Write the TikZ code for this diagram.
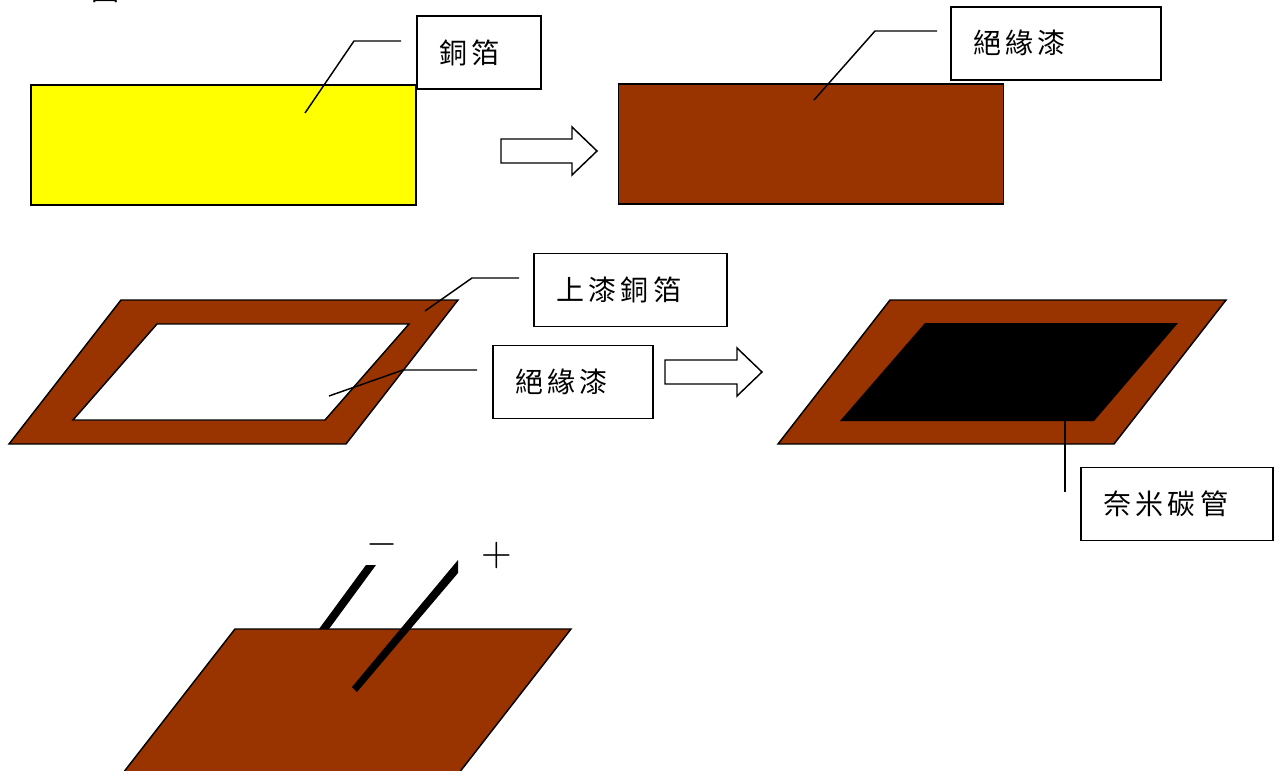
\documentclass[tikz,border=0pt]{standalone}
\usepackage{fontspec}
\newfontfamily\cjk[LetterSpace=16]{Noto Sans CJK TC}
\definecolor{lacquer}{HTML}{993300}
\definecolor{foilyellow}{RGB}{255,255,0}

\begin{document}
\begin{tikzpicture}[x=0.75pt,y=-0.75pt,
    sheet/.style={
% The shape:
rectangle,
% The size:
minimum height=90pt,
minimum width=288.75pt,
inner sep=0pt,
% The border:
line width=1.1pt, draw,
fill=#1,
},
    lbl/.style={
% The shape:
rectangle,
% The size:
minimum height=54.5pt,
inner xsep=16.5pt,
inner ysep=0pt,
text width=#1,
align=left,
% The border:
line width=1.1pt, draw,
fill=white,
font=\cjk\fontsize{21}{25}\selectfont,
},
    plate/.style={line width=1.1pt, draw=black, fill=lacquer},
    leader/.style={line width=1.1pt},
    wire/.style={fill=black},
    sign/.style={inner sep=0pt},
    hollow/.style={line width=1.1pt, draw=black, fill=white},
]
  \useasboundingbox (0,0) rectangle (1282,771);

  \node[inner sep=0pt, font=\cjk\fontsize{21}{25}\selectfont] (title) at (105,-10) {圖};

  % top row
  \node[sheet=foilyellow] (foil)   at (223.5,145)  {};
  \node[sheet=lacquer]    (coated) at (811,144)    {};
  \node[lbl=60pt]         (foil label)   at (479,52.5)  {銅箔};
  \node[lbl=124.5pt]      (coated label) at (1056,43.5) {\raisebox{2pt}{絕緣漆}};

  \draw[hollow] (501,139) -- (572,139) -- (572,127) -- (597,151) -- (572,175) -- (572,163) -- (501,163) -- cycle;

  \coordinate (foil tip)   at (305,113);
  \coordinate (foil bend)  at (354,41);
  \coordinate (foil end)   at (401,41);
  \coordinate (coat tip)   at (814,100);
  \coordinate (coat bend)  at (875,31);
  \coordinate (coat end)   at (937,31);
  \draw[leader] (foil tip) -- (foil bend) -- (foil end);
  \draw[leader] (coat tip) -- (coat bend) -- (coat end);

  % middle row
  \draw[plate] (121,300) -- (458,300) -- (346,444) -- (9,444) -- cycle;
  \draw[hollow] (157,324) -- (409,324) -- (325,420) -- (73,420) -- cycle;
  \node[lbl=111.75pt]   (plate label) at (630.5,290) {上漆銅箔};
  \node[lbl=87pt]       (paint label) at (573,382)   {絕緣漆};

  \coordinate (plate tip)  at (425,311);
  \coordinate (plate bend) at (472,278);
  \coordinate (plate end)  at (519,278);
  \coordinate (paint tip)  at (329,396);
  \coordinate (paint bend) at (403,370);
  \coordinate (paint end)  at (477,370);
  \draw[leader] (plate tip) -- (plate bend) -- (plate end);
  \draw[leader] (paint tip) -- (paint bend) -- (paint end);

  \draw[hollow] (665,360) -- (737,360) -- (737,348) -- (762,372) -- (737,396) -- (737,384) -- (665,384) -- cycle;

  \draw[plate] (890,300) -- (1226,300) -- (1114,444) -- (778,444) -- cycle;
  \fill[black] (925,323) -- (1178,323) -- (1094,421) -- (840,421) -- cycle;
  \node[lbl=111pt]      (tube label) at (1177,504) {奈米碳管};

  \coordinate (tube tip) at (1065,420);
  \coordinate (tube end) at (1065,492);
  \draw[leader] (tube tip) -- (tube end);

  % bottom plate with the two wires
  \draw[plate] (235,629) -- (571,629) -- (459,773) -- (123,773) -- cycle;
  \fill[wire] (366,565) -- (376,565) -- (329,629) -- (319,629) -- cycle;
  \fill[wire] (458,560) -- (458,573) -- (357,692) -- (352,687) -- cycle;
  \node[sign] (minus) at (382.5,544) {\scalebox{3}{$-$}};
  \node[sign] (plus)  at (496.5,555) {\scalebox{3}{$+$}};
\end{tikzpicture}
\end{document}
